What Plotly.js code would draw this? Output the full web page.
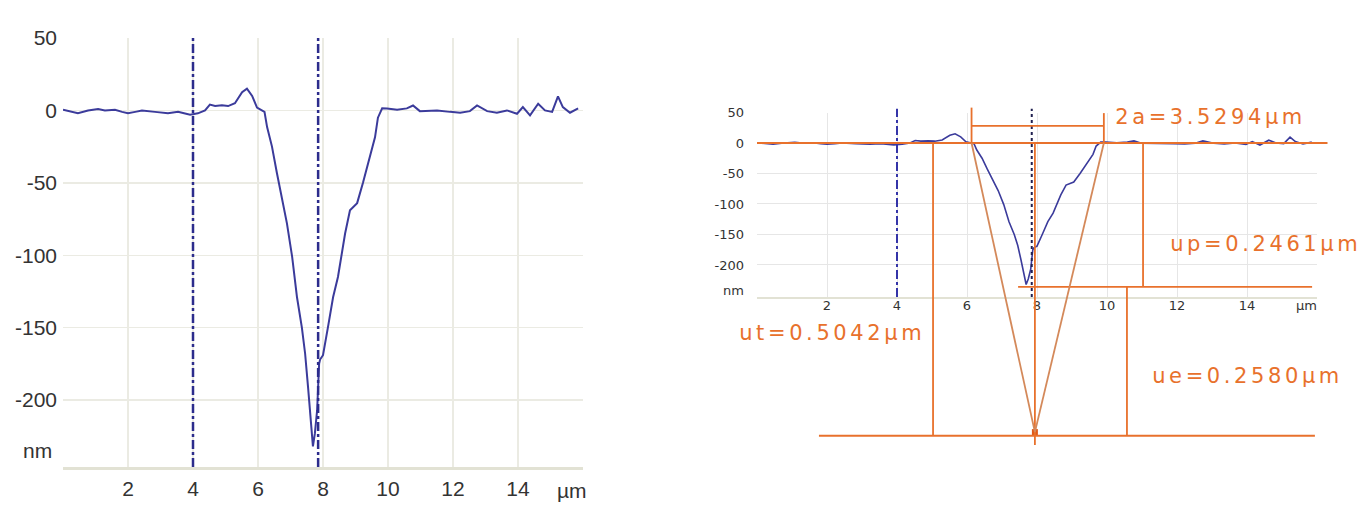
<!DOCTYPE html>
<html>
<head>
<meta charset="utf-8">
<script src="https://cdn.plot.ly/plotly-3.0.1.min.js"></script>
<style>
html,body{margin:0;padding:0;background:#ffffff;}
#chart{width:1364px;height:512px;}
</style>
</head>
<body>
<div id="chart"></div>
<script>
// ---- profile (x in µm, height in nm) ----
const profileX = [0.00, 0.22, 0.46, 0.77, 1.08, 1.29, 1.60, 1.82, 2.00, 2.22, 2.43, 2.83, 3.23, 3.54, 3.91, 4.15, 4.37, 4.52, 4.68, 4.89, 5.08, 5.29, 5.51, 5.66, 5.82, 5.97, 6.12, 6.20, 6.28, 6.43, 6.58, 6.74, 6.89, 7.05, 7.20, 7.35, 7.45, 7.54, 7.60, 7.66, 7.69, 7.75, 7.82, 7.85, 7.88, 7.91, 8.00, 8.15, 8.31, 8.46, 8.68, 8.83, 9.05, 9.23, 9.45, 9.60, 9.69, 9.82, 9.97, 10.28, 10.58, 10.77, 10.98, 11.29, 11.51, 11.91, 12.22, 12.52, 12.74, 13.05, 13.35, 13.66, 13.97, 14.15, 14.37, 14.62, 14.83, 15.05, 15.23, 15.38, 15.60, 15.85];
const profileY = [0.5, -0.5, -2, 0, 1, 0, 0.5, -1, -2, -1, 0, -1, -2, -1, -3, -2, 0, 4, 3, 3.5, 3, 5, 12.6, 15, 10, 2, 0, -1, -11.5, -25, -43, -60, -78, -101, -129, -150, -168, -191, -209, -228, -232, -223, -207, -191, -175, -172, -169, -150, -129, -115, -85, -69, -64, -50, -32, -18.6, -5, 1.5, 1.4, 0.5, 1.4, 3.4, -0.5, -0.5, 0, -1, -1.6, -0.5, 3.4, -0.5, -1.6, 0, -2.3, 2.3, -3.4, 4.6, 0, -1, 9.7, 2.3, -1.6, 1.4];

// cursor positions (µm)
const cursorX = [4.0, 7.85];

// axis ticks
const xTickVals = [0, 2, 4, 6, 8, 10, 12, 14, 16];
const xTickText = ['', '2', '4', '6', '8', '10', '12', '14', ''];
const yTickVals = [50, 0, -50, -100, -150, -200];
const yTickText = ['50', '0', '-50', '-100', '-150', '-200'];

// measurement construction lines (right chart, µm / nm)
const guideX0 = [0.00, 6.13, 9.91, 6.13, 5.03, 1.77, 7.94, 11.03, 7.46, 10.57];
const guideY0 = [0, 58, 49, 28, 0, -480, 0, 0, -236, -236];
const guideX1 = [16.30, 6.13, 9.91, 9.91, 5.03, 15.94, 7.94, 11.03, 15.86, 10.57];
const guideY1 = [0, 0, 0, 28, -480, -480, -495, -236, -236, -480];
// V (tip) lines
const vX0 = [6.13, 9.91];
const vY0 = [0, 0];
const tipX = [7.94];
const tipY = [-474];

// measurement labels
const labelText = ['2a=3.5294µm', 'up=0.2461µm', 'ue=0.2580µm', 'ut=0.5042µm'];
const labelX = [10.17, 11.74, 11.23, -0.57];
const labelY = [42.6, -165.6, -382, -311];

// ---- layout geometry (pixels) ----
const W = 1364, H = 512;
const fx = (a, b) => [a / W, b / W];
const fy = (top, bottom) => [1 - bottom / H, 1 - top / H];

const L = {x0: 63, x1: 583, y0: 38, y1: 467, xr: [0, 16], yr: [-246.2, 50]};
const R = {x0: 757, x1: 1317, y0: 112.5, y1: 297, xr: [0, 16], yr: [-252.5, 50]};
const O = {x0: 700, x1: 1364, y0: 95, y1: 470};
const rpx = (R.x1 - R.x0) / (R.xr[1] - R.xr[0]);
const rpy = (R.y1 - R.y0) / (R.yr[1] - R.yr[0]);
const oxr = [R.xr[0] + (O.x0 - R.x0) / rpx, R.xr[0] + (O.x1 - R.x0) / rpx];
const oyr = [R.yr[0] - (O.y1 - R.y1) / rpy, R.yr[0] + (R.y1 - O.y0) / rpy];

const blue = '#3b3b9b';
const navy = '#2c2c8c';
const orange = '#e8712c';
const tan = '#d4895a';
const leftFont = {family: '"Liberation Sans", Arial, sans-serif', size: 21, color: '#333333'};
const rightFont = {family: '"DejaVu Sans", Verdana, sans-serif', size: 13, color: '#333333'};
const labFont = {family: '"DejaVu Sans", Verdana, sans-serif', size: 21, color: orange};
const labSpacing = 3.6;

const traces = [
  {x: profileX, y: profileY, xaxis: 'x', yaxis: 'y', mode: 'lines', line: {color: blue, width: 2}},
  {x: profileX, y: profileY, xaxis: 'x2', yaxis: 'y2', mode: 'lines', line: {color: blue, width: 1.6}},
  {x: tipX, y: tipY, xaxis: 'x3', yaxis: 'y3', mode: 'markers', marker: {symbol: 'square', size: 6, color: '#e05a18'}}
];

const shapes = [];
// left cursors
cursorX.forEach(cx => shapes.push({type: 'line', xref: 'x', yref: 'y domain', x0: cx, x1: cx, y0: 0, y1: 1,
  line: {color: navy, width: 2.5, dash: 'dashdot'}}));
// right cursors
shapes.push({type: 'line', xref: 'x2', yref: 'y2 domain', x0: cursorX[0], x1: cursorX[0], y0: 0, y1: 1.02,
  line: {color: '#3434a8', width: 2, dash: 'dashdot'}});
shapes.push({type: 'line', xref: 'x2', yref: 'y2 domain', x0: cursorX[1], x1: cursorX[1], y0: 0, y1: 1.02,
  line: {color: '#202050', width: 2, dash: 'dot'}});
// construction lines
for (let i = 0; i < guideX0.length; i++) {
  shapes.push({type: 'line', xref: 'x3', yref: 'y3', x0: guideX0[i], y0: guideY0[i], x1: guideX1[i], y1: guideY1[i],
    line: {color: orange, width: 1.8}, layer: 'above'});
}
for (let i = 0; i < vX0.length; i++) {
  shapes.push({type: 'line', xref: 'x3', yref: 'y3', x0: vX0[i], y0: vY0[i], x1: tipX[0], y1: tipY[0],
    line: {color: tan, width: 1.8}, layer: 'above'});
}

const annotations = [
  {text: 'nm', xref: 'x domain', yref: 'y domain', x: 0, y: (L.y1 - 450) / (L.y1 - L.y0), xanchor: 'right', yanchor: 'middle', xshift: -9, showarrow: false, font: leftFont},
  {text: 'µm', xref: 'x domain', yref: 'y domain', x: (572 - L.x0) / (L.x1 - L.x0), y: -(490 - L.y1) / (L.y1 - L.y0), xanchor: 'center', yanchor: 'middle', showarrow: false, font: leftFont},
  {text: 'nm', xref: 'x2 domain', yref: 'y2 domain', x: 0, y: (R.y1 - 290) / (R.y1 - R.y0), xanchor: 'right', yanchor: 'middle', xshift: -11, showarrow: false, font: rightFont},
  {text: 'µm', xref: 'x2 domain', yref: 'y2 domain', x: (1306 - R.x0) / (R.x1 - R.x0), y: -(305 - R.y1) / (R.y1 - R.y0), xanchor: 'center', yanchor: 'middle', showarrow: false, font: rightFont}
];
for (let i = 0; i < labelText.length; i++) {
  annotations.push({text: labelText[i], xref: 'x3', yref: 'y3', x: labelX[i], y: labelY[i], xanchor: 'left', yanchor: 'middle',
    xshift: labSpacing * labelText[i].length / 2, showarrow: false, font: labFont});
}

const gridL = '#ebebe3';
const gridR = '#e6e6e6';

const layout = {
  width: W, height: H,
  margin: {l: 0, r: 0, t: 0, b: 0, pad: 0},
  paper_bgcolor: '#ffffff', plot_bgcolor: 'rgba(0,0,0,0)',
  showlegend: false, hovermode: false,
  xaxis: {domain: fx(L.x0, L.x1), range: L.xr, anchor: 'y', tickvals: xTickVals, ticktext: xTickText,
    showgrid: true, gridcolor: gridL, gridwidth: 1.5, zeroline: false, ticks: '', showline: true, linecolor: '#e2e2d4', linewidth: 3,
    tickfont: leftFont, ticklabelstandoff: 1},
  yaxis: {domain: fy(L.y0, L.y1), range: L.yr, anchor: 'x', tickvals: yTickVals, ticktext: yTickText,
    showgrid: true, gridcolor: gridL, gridwidth: 1.5, zeroline: false, ticks: '', showline: false,
    tickfont: leftFont, ticklabelstandoff: 5},
  xaxis2: {domain: fx(R.x0, R.x1), range: R.xr, anchor: 'y2', tickvals: xTickVals, ticktext: xTickText,
    showgrid: true, gridcolor: gridR, gridwidth: 1, zeroline: false, ticks: '', showline: true, linecolor: '#e2e2d4', linewidth: 2,
    tickfont: rightFont, ticklabelstandoff: -5},
  yaxis2: {domain: fy(R.y0, R.y1), range: R.yr, anchor: 'x2', tickvals: yTickVals, ticktext: yTickText,
    showgrid: true, gridcolor: gridR, gridwidth: 1, zeroline: false, ticks: '', showline: false,
    tickfont: rightFont, ticklabelstandoff: 12},
  xaxis3: {domain: fx(O.x0, O.x1), range: oxr, anchor: 'y3', visible: false, showgrid: false, zeroline: false},
  yaxis3: {domain: fy(O.y0, O.y1), range: oyr, anchor: 'x3', visible: false, showgrid: false, zeroline: false},
  shapes: shapes,
  annotations: annotations
};

Plotly.newPlot('chart', traces, layout, {staticPlot: true, displayModeBar: false}).then(gd => {
  gd.querySelectorAll('g.annotation text').forEach(t => {
    if (labelText.indexOf(t.textContent) >= 0) t.style.letterSpacing = labSpacing + 'px';
  });
});
</script>
</body>
</html>
